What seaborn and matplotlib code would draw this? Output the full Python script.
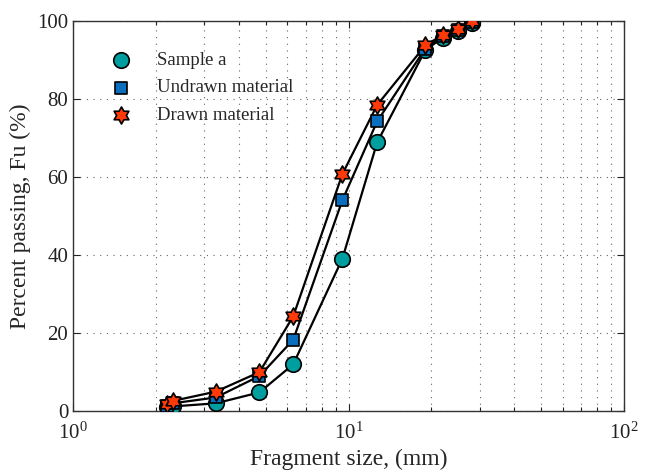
import numpy as np
import pandas as pd
import matplotlib
matplotlib.use("Agg")
import matplotlib.pyplot as plt
import seaborn as sns
from matplotlib.path import Path
from matplotlib.ticker import LogLocator, FixedLocator, NullFormatter

# Sieve sizes (mm) and cumulative percent passing for each material
sizes = [2.2, 2.3, 3.3, 4.75, 6.3, 9.5, 12.7, 19, 22, 25, 28]
sample_a = [1.0, 1.2, 2.0, 4.8, 12.0, 39.1, 68.9, 92.6, 95.8, 97.5, 99.5]
undrawn = [1.3, 2.0, 3.5, 9.0, 18.3, 54.1, 74.3, 93.0, 96.2, 97.8, 99.8]
drawn = [1.7, 2.6, 5.0, 10.0, 24.3, 60.8, 78.5, 93.8, 96.5, 98.0, 100.0]

series_names = ["Sample a", "Undrawn material", "Drawn material"]
x_ticks = [1, 10, 100]
x_tick_labels = [r"$10^{0}$", r"$10^{1}$", r"$10^{2}$"]
y_ticks = [0, 20, 40, 60, 80, 100]

df = pd.concat(
    [
        pd.DataFrame({"size": sizes, "passing": vals, "series": name})
        for name, vals in zip(series_names, [sample_a, undrawn, drawn])
    ],
    ignore_index=True,
)

# six-pointed star (hexagram) outline marker
ang = np.pi / 2 + np.arange(12) * np.pi / 6
rad = np.where(np.arange(12) % 2 == 0, 1.0, 1 / np.sqrt(3))
verts = np.column_stack([rad * np.cos(ang), rad * np.sin(ang)])
verts = np.vstack([verts, verts[:1]])
hexagram = Path(verts, [Path.MOVETO] + [Path.LINETO] * 11 + [Path.CLOSEPOLY])

sns.set_theme(style="white")
plt.rcParams["font.family"] = ["Liberation Serif", "DejaVu Serif"]
plt.rcParams["mathtext.fontset"] = "custom"
plt.rcParams["mathtext.rm"] = "Liberation Serif"
plt.rcParams["mathtext.it"] = "Liberation Serif:italic"

fig = plt.figure(figsize=(6.46, 4.72), dpi=100)
ax = fig.add_axes([0.113, 0.129, 0.853, 0.826])

face = {"Sample a": "#009E9E", "Undrawn material": "#0A6FBF", "Drawn material": "#FF3A08"}
markers = {"Sample a": "o", "Undrawn material": "s", "Drawn material": hexagram}
sizes_pt = {"Sample a": 125, "Undrawn material": 80, "Drawn material": 150}

# connecting lines in black
sns.lineplot(
    data=df, x="size", y="passing", hue="series", hue_order=series_names,
    palette=["black"] * 3, estimator=None, sort=True, lw=1.6,
    legend=False, ax=ax, zorder=2,
)

# markers drawn per series so stars sit on top
for name in series_names:
    sub = df[df["series"] == name]
    sns.scatterplot(
        data=sub, x="size", y="passing", marker=markers[name],
        s=sizes_pt[name], color=face[name], edgecolor="black",
        linewidth=1.2, ax=ax, zorder=3, label=name,
    )

ax.set_xscale("log")
ax.set_xlim(1, 100)
ax.set_ylim(0, 100)

ax.xaxis.set_major_locator(FixedLocator(x_ticks))
ax.set_xticklabels(x_tick_labels)
ax.xaxis.set_minor_locator(LogLocator(base=10, subs=np.arange(2, 10)))
ax.xaxis.set_minor_formatter(NullFormatter())
ax.set_yticks(y_ticks)

ax.grid(True, which="both", axis="x", ls=(0, (1, 5)), color="#666666", lw=0.8)
ax.grid(True, which="major", axis="y", ls=(0, (1, 5)), color="#666666", lw=0.8)

ax.tick_params(which="both", direction="in", top=True, right=True,
               bottom=True, left=True, labelsize=15, colors="#222222")
ax.tick_params(which="major", length=5, width=0.8)
ax.tick_params(which="minor", length=3, width=0.8)
ax.tick_params(axis="x", pad=8)
for sp in ax.spines.values():
    sp.set_color("#333333")
    sp.set_linewidth(1.0)

ax.set_xlabel("Fragment size, (mm)", fontsize=17, labelpad=4)
ax.set_ylabel("Percent passing, Fu (%)", fontsize=17, labelpad=4)

leg = ax.legend(loc="upper left", bbox_to_anchor=(0.03, 0.955), frameon=False,
                fontsize=13.5, handletextpad=0.9, labelspacing=0.55,
                borderaxespad=0.3)

fig.savefig("out.png", dpi=100)
